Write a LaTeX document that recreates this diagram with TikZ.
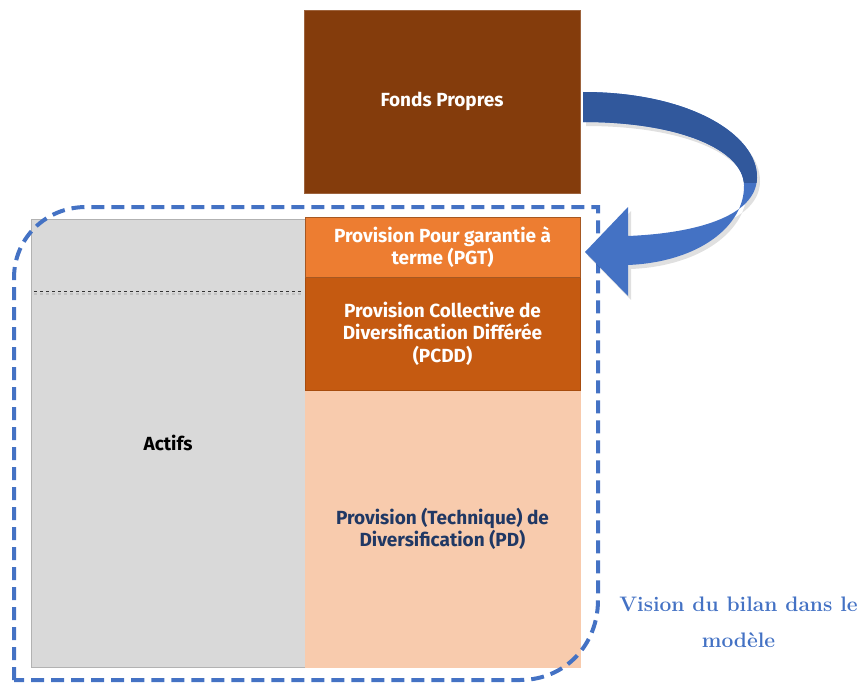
\documentclass[tikz,border=0pt]{standalone}
\usepackage{fontspec}
\newfontfamily\boxfont{Fira Sans}
\definecolor{fpbrown}{HTML}{843C0C}
\definecolor{pgtor}{HTML}{ED7D31}
\definecolor{pcddor}{HTML}{C55A11}
\definecolor{pdpeach}{HTML}{F8CBAD}
\definecolor{actgray}{HTML}{D9D9D9}
\definecolor{blueacc}{HTML}{4472C4}
\definecolor{bluedark}{HTML}{2F5597}
\definecolor{navytxt}{HTML}{203864}
\tikzset{
  blk/.style={rectangle, inner sep=0pt, align=center, font=\boxfont\bfseries\fontsize{19}{22.5}\selectfont},
}
\begin{document}
\begin{tikzpicture}[x=1pt,y=-1pt]
\useasboundingbox (0,0) rectangle (861,687);
% Actifs
\node[blk, fill=actgray, draw=gray!60, minimum width=274, minimum height=448, text=black] (act) at (168,443) {Actifs};
\coordinate (dl) at (34,291);
\coordinate (dr) at (301,291);
\draw[black!40, opacity=0.35, line width=2pt, dashed] ([yshift=-3pt]dl) -- ([yshift=-3pt]dr);
\draw[black!80, dashed, line width=0.8pt] (dl) -- (dr);
% right column
\node[blk, fill=pdpeach, draw=pgtor!40, minimum width=275, minimum height=276, text=navytxt] (pd) at (442.5,529) {Provision (Technique) de\\Diversification (PD)};
\node[blk, fill=pcddor, draw=pcddor!85!black, minimum width=275, minimum height=113, text=white] (pcdd) at (442.5,333.5) {Provision Collective de\\Diversification Différée\\(PCDD)};
\node[blk, fill=pgtor, draw=pgtor!70!black, minimum width=275, minimum height=60, text=white] (pgt) at (442.5,247) {Provision Pour garantie à\\terme (PGT)};
\node[blk, fill=fpbrown, draw=fpbrown!80!white, minimum width=276, minimum height=183, text=white] (fp) at (442,101.5) {Fonds Propres};
% dashed frame
\draw[blueacc, line width=4pt, dash pattern=on 13pt off 7pt]
  (14,680) -- (14,278) .. controls (14,238) and (46,207) .. (86,207) -- (598,207) -- (598,600) .. controls (598,645) and (565,680) .. (520,680) -- cycle;
% curved arrow
\coordinate (as) at (583,107);
\coordinate (at) at (585,252);
\begin{scope}
\path[fill=black, opacity=0.12] (586,96) .. controls (693,96) and (761,139) .. (760,182) .. controls (759,219) and (703,237) .. (631,240) -- (631,211) -- ([shift={(3,4)}]at) -- (631,300) -- (631,269) .. controls (703,266) and (748,229) .. (747,189) .. controls (746,154) and (683,126) .. (586,126) -- cycle;
\fill[blueacc] (as) ++(0,-15) .. controls (690,92) and (758,135) .. (757,178) .. controls (756,215) and (700,233) .. (628,236) -- (628,207) -- (at) -- (628,296) -- (628,265) .. controls (700,262) and (745,225) .. (744,185) .. controls (743,150) and (680,122) .. (583,122) -- cycle;
\clip (570,80) rectangle (770,182);
\fill[bluedark!90!blueacc] (as) ++(0,-15) .. controls (690,92) and (758,135) .. (757,178) .. controls (756,215) and (700,233) .. (628,236) -- (628,265) .. controls (700,262) and (745,225) .. (744,185) .. controls (743,150) and (680,122) .. (583,122) -- cycle;
\end{scope}
% caption
\node[text=blueacc, align=center, font=\bfseries\fontsize{21}{36}\selectfont] (cap) at (738.5,622) {Vision du bilan dans le\\modèle};
\end{tikzpicture}
\end{document}
